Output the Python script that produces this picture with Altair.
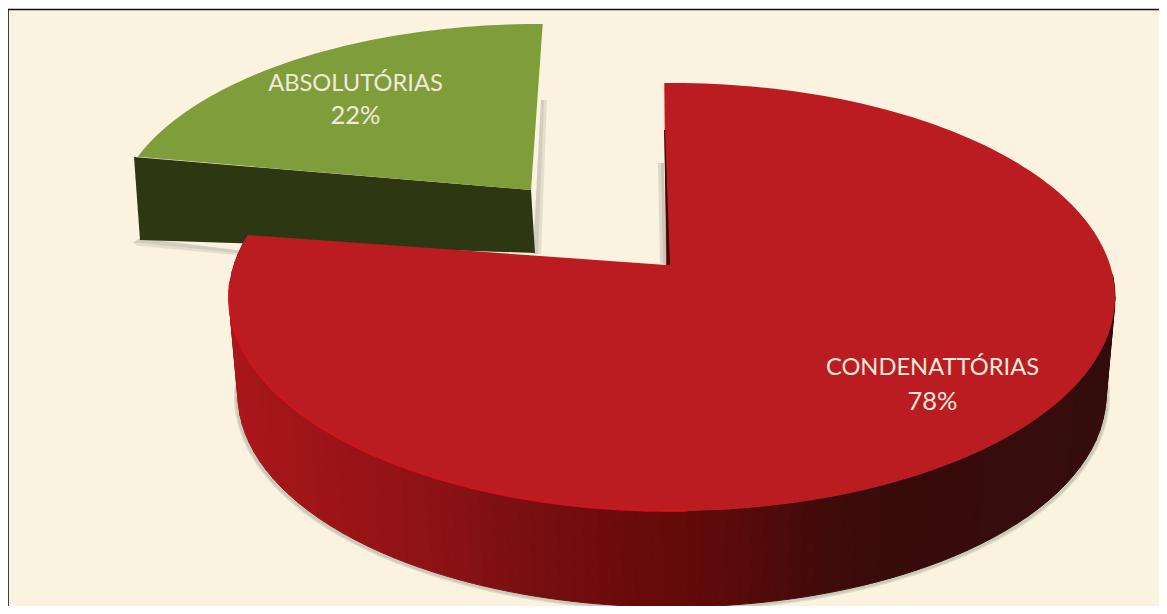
import math
import altair as alt

# ---- data
categories = ["CONDENATTÓRIAS", "ABSOLUTÓRIAS"]
shares = [78, 22]

# ---- layout (reference pixels; the chart origin sits at 8,8)
W, H = 1151, 598
OX, OY = 8, 8
RED_TOP = dict(cx=672, cy=297, a=443, b=214)
RED_BOT = dict(cx=672, cy=395, a=434, b=212)
RED_APEX = (666, 265)
GRN_TOP = dict(cx=539, cy=222, a=425, b=198)
GRN_APEX = (531, 190)
RED_START, GRN_START = 91.0, 89.5
RED_STRETCH, GRN_STRETCH = 1.025, 0.90
WALL_COLORS = ["#A8161B", "#9C1417", "#8E1215", "#7A0F11", "#680A0B", "#5C0A0A", "#470A0A", "#380B0B", "#350C0C"]
WALL_STOPS = [240, 330, 430, 520, 640, 730, 800, 880, 1110]


def pt(el, t):
    r = math.radians(t)
    return (el["cx"] + el["a"] * math.cos(r) - OX, el["cy"] - el["b"] * math.sin(r) - OY)


def shift(p):
    return (p[0] - OX, p[1] - OY)


def feature(coords, **props):
    ring = [list(c) for c in coords]
    ring.append(ring[0])
    return {"type": "Feature", "geometry": {"type": "Polygon", "coordinates": [ring]}, "properties": props}


def line_feature(coords, **props):
    return {"type": "Feature", "geometry": {"type": "LineString", "coordinates": [list(c) for c in coords]}, "properties": props}


proj = dict(type="identity", scale=1, translate=[0, 0])
red_end = RED_START - shares[0] * 3.6 * RED_STRETCH
grn_end = GRN_START + shares[1] * 3.6 * GRN_STRETCH


def span(a, b, n):
    return [a + (b - a) * i / n for i in range(n + 1)]


def shapes(features, **mark):
    return alt.Chart(alt.InlineData(values=features)).mark_geoshape(**mark).project(**proj)


# background and frame
bg = shapes([feature([(0, 1.5), (W, 1.5), (W, H), (0, H)])], fill="#FBF3E0", stroke=None)
frame = shapes([line_feature([(0, H), (0, 1.5), (W, 1.5)])], filled=False, stroke="#111111", strokeWidth=1.6)

# green slice
g_apex = shift(GRN_APEX)
shadow_fill = "#8C8C80"
g_shadow = [
    shapes([feature([shift((541, 100)), shift((541 + w, 100)), shift((535 + w, 254)), shift((533, 254))]),
            feature([shift((135 - w / 2, 243)), shift((140, 238)), shift((300, 258)), shift((300, 258 + w / 2)), shift((140, 240 + w))])],
           fill=shadow_fill, opacity=0.2, stroke=None)
    for w in (3, 6)
]
g_wall = shapes([feature([shift((134, 157)), shift((531, 190)), shift((535, 253)), shift((140, 240))])],
                fill="#2D3813", stroke=None)
g_top = shapes([feature([g_apex] + [pt(GRN_TOP, t) for t in span(GRN_START, grn_end, 60)])],
               fill="#7F9D3B", stroke=None)

# red slice: outer wall in narrow vertical strips, coloured through a scale
ts = [red_end % 360]
while ts[-1] < 366:
    t = ts[-1]
    nxt = t + 2.5
    if 180 < t < 360:
        x_next = RED_TOP["a"] * math.cos(math.radians(t)) + 13
        if abs(x_next) < RED_TOP["a"]:
            nxt = min(nxt, 360 - math.degrees(math.acos(x_next / RED_TOP["a"])))
    ts.append(min(max(nxt, t + 0.25), 366))
strips = []
for t0, t1 in zip(ts[:-1], ts[1:]):
    a, b = pt(RED_TOP, t0), pt(RED_TOP, t1)
    c, d = pt(RED_BOT, t1), pt(RED_BOT, t0)
    strips.append(feature([a, b, c, d], xpos=(a[0] + b[0]) / 2 + OX))
wall_scale = alt.Scale(domain=WALL_STOPS, range=WALL_COLORS)
r_shadow = [
    shapes([line_feature([(pt(RED_BOT, t)[0] + (1.5 if t > 270 else -1.5), pt(RED_BOT, t)[1] + 1.5) for t in span(172, 366, 120)])],
           filled=False, stroke="#7F8F7A", strokeWidth=w, opacity=0.22)
    for w in (2.5, 5)
]
r_wall = shapes(strips, strokeWidth=1).encode(
    color=alt.Color("properties.xpos:Q", scale=wall_scale, legend=None),
    stroke=alt.Stroke("properties.xpos:Q", scale=wall_scale, legend=None),
)
r_apex = shift(RED_APEX)
r_notch_shadow = [
    shapes([feature([shift((664 - w, 163)), shift((664, 163)), shift((666, 265)), shift((666 - w, 263))])],
           fill=shadow_fill, opacity=0.25, stroke=None)
    for w in (3, 6)
]
r_top = shapes([feature([r_apex] + [pt(RED_TOP, t) for t in span(RED_START, red_end, 220)])],
               fill="#BB1C21", stroke=None)
r_glow = shapes([line_feature([pt(RED_TOP, t) for t in span(176, 272, 90)])],
                filled=False, stroke="#D8141C", strokeWidth=2, opacity=0.85)
r_notch = shapes([feature([shift((664, 130)), shift((665, 130)), shift((670, 265)), shift((667, 265))])],
                 fill="#3A0808", stroke=None)

# labels
name_rows = [
    {"x": 355.5 - OX, "y": 84 - OY, "t": categories[1]},
    {"x": 932.5 - OX, "y": 368 - OY, "t": categories[0]},
]
pct_rows = [
    {"x": 355.5 - OX, "y": 116 - OY, "t": f"{shares[1]}%"},
    {"x": 932.5 - OX, "y": 402 - OY, "t": f"{shares[0]}%"},
]
x_id = alt.Scale(domain=[0, W], range=[0, W])
y_id = alt.Scale(domain=[0, H], range=[0, H])


def text_layer(rows, size):
    return alt.Chart(alt.Data(values=rows)).mark_text(
        font="Lato", fontSize=size, color="#F1E9DC", align="center", baseline="middle"
    ).encode(
        x=alt.X("x:Q", scale=x_id, axis=None),
        y=alt.Y("y:Q", scale=y_id, axis=None),
        text="t:N",
    )


chart = alt.layer(
    bg, frame, *g_shadow, g_wall, g_top, *r_shadow, r_wall, *r_notch_shadow, r_top, r_glow, r_notch,
    text_layer(name_rows, 23.7), text_layer(pct_rows, 25.5)
).resolve_scale(color="independent", stroke="independent").properties(
    width=W, height=H, padding=0, autosize=alt.AutoSizeParams(type="none"), background="white"
).configure_view(stroke=None)

chart.save("out.html", embed_options={"renderer": "svg", "actions": False})
